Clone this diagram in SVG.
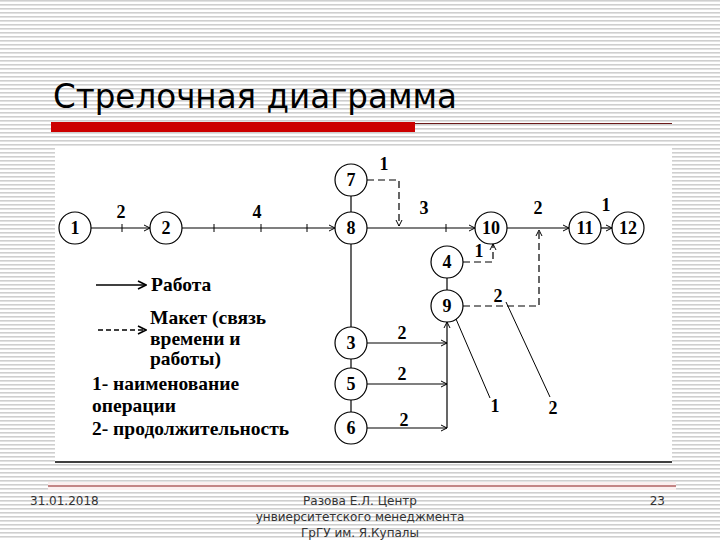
<svg xmlns="http://www.w3.org/2000/svg" width="720" height="540" viewBox="0 0 720 540">
<defs>
<pattern id="stripes" width="8" height="4" patternUnits="userSpaceOnUse">
<rect width="8" height="4" fill="#ffffff"/>
<rect y="0" width="8" height="1.6" fill="#cfcfcf"/>
</pattern>
<marker id="arr" markerWidth="8" markerHeight="8" refX="7" refY="4" orient="auto" markerUnits="userSpaceOnUse">
<path d="M1,1 L7,4 L1,7" fill="none" stroke="#000" stroke-width="1"/>
</marker>
<marker id="arrL" markerWidth="10" markerHeight="10" refX="9" refY="5" orient="auto" markerUnits="userSpaceOnUse">
<path d="M1,1 L9,5 L1,9" fill="none" stroke="#000" stroke-width="1.6"/>
</marker>
</defs>
<style>
.node circle{fill:#fff;stroke:#000;stroke-width:1.2}
.node text,.lbl{font-family:"Liberation Serif","Times New Roman",serif;font-weight:bold;font-size:18px;text-anchor:middle;fill:#000}
.ln{stroke:#000;stroke-width:1.2;fill:none}
.dash{stroke:#000;stroke-width:1.2;fill:none;stroke-dasharray:7 4}
.tick{stroke:#000;stroke-width:1}
.leg{font-family:"Liberation Serif","Times New Roman",serif;font-weight:bold;font-size:19.5px;fill:#000}
.foot{font-family:"DejaVu Sans","Liberation Sans",sans-serif;font-size:12px;fill:#333}
</style>
<rect width="720" height="540" fill="url(#stripes)"/>
<text x="53" y="108" font-family="DejaVu Sans,Liberation Sans,sans-serif" font-size="33" fill="#000" textLength="404" lengthAdjust="spacingAndGlyphs">Стрелочная диаграмма</text>
<rect x="51" y="122" width="364" height="10" fill="#cc0000"/>
<line x1="415" y1="123.5" x2="672" y2="123.5" stroke="#6b1a1a" stroke-width="1"/>
<rect x="55" y="147" width="617" height="315" fill="#ffffff"/>
<line x1="55" y1="462" x2="672" y2="462" stroke="#000" stroke-width="1.5"/>
<rect x="48" y="482" width="628" height="8" fill="#fbeeee"/>
<line x1="48" y1="486" x2="676" y2="486" stroke="#8b1a1a" stroke-width="1"/>
<g id="connectors">
<line class="ln" x1="91" y1="228" x2="150" y2="228" marker-end="url(#arr)"/>
<line class="tick" x1="122" y1="224" x2="122" y2="232"/>
<line class="ln" x1="182" y1="228" x2="335" y2="228" marker-end="url(#arr)"/>
<line class="tick" x1="214" y1="224" x2="214" y2="232"/>
<line class="tick" x1="261" y1="224" x2="261" y2="232"/>
<line class="tick" x1="307" y1="224" x2="307" y2="232"/>
<line class="ln" x1="351" y1="196" x2="351" y2="212"/>
<path class="dash" d="M367,180 H399 V226" marker-end="url(#arr)"/>
<line class="ln" x1="367" y1="228" x2="475" y2="228" marker-end="url(#arr)"/>
<line class="tick" x1="446" y1="224" x2="446" y2="232"/>
<line class="ln" x1="507" y1="228" x2="569" y2="228" marker-end="url(#arr)"/>
<line class="ln" x1="601" y1="228" x2="612" y2="228" marker-end="url(#arr)"/>
<path class="dash" d="M463,262 H493 V244" marker-end="url(#arr)"/>
<line class="ln" x1="447" y1="278" x2="447" y2="290"/>
<path class="dash" d="M463,306 H539 V230" marker-end="url(#arr)"/>
<line class="ln" x1="351" y1="244" x2="351" y2="327"/>
<line class="ln" x1="351" y1="359" x2="351" y2="368"/>
<line class="ln" x1="351" y1="400" x2="351" y2="412"/>
<line class="ln" x1="367" y1="343" x2="447" y2="343" marker-end="url(#arr)"/>
<line class="ln" x1="367" y1="384" x2="447" y2="384" marker-end="url(#arr)"/>
<line class="ln" x1="367" y1="428" x2="447" y2="428" marker-end="url(#arr)"/>
<line class="ln" x1="447" y1="428" x2="447" y2="322" marker-end="url(#arr)"/>
<line class="tick" x1="456" y1="319" x2="490" y2="398"/>
<line class="tick" x1="506" y1="302" x2="550" y2="397"/>
</g>
<g id="edge-labels">
<text class="lbl" x="121" y="218">2</text>
<text class="lbl" x="257" y="218">4</text>
<text class="lbl" x="384" y="170">1</text>
<text class="lbl" x="424" y="214">3</text>
<text class="lbl" x="538" y="214">2</text>
<text class="lbl" x="606" y="211">1</text>
<text class="lbl" x="479" y="257">1</text>
<text class="lbl" x="498" y="302">2</text>
<text class="lbl" x="402" y="339">2</text>
<text class="lbl" x="402" y="380">2</text>
<text class="lbl" x="404" y="426">2</text>
<text class="lbl" x="495" y="412">1</text>
<text class="lbl" x="553" y="414">2</text>
</g>
<g id="n1" class="node"><circle cx="75" cy="228" r="16"/><text x="75" y="234">1</text></g>
<g id="n2" class="node"><circle cx="166" cy="228" r="16"/><text x="166" y="234">2</text></g>
<g id="n7" class="node"><circle cx="351" cy="180" r="16"/><text x="351" y="186">7</text></g>
<g id="n8" class="node"><circle cx="351" cy="228" r="16"/><text x="351" y="234">8</text></g>
<g id="n10" class="node"><circle cx="491" cy="228" r="16"/><text x="491" y="234">10</text></g>
<g id="n11" class="node"><circle cx="585" cy="228" r="16"/><text x="585" y="234">11</text></g>
<g id="n12" class="node"><circle cx="628" cy="228" r="16"/><text x="628" y="234">12</text></g>
<g id="n4" class="node"><circle cx="447" cy="262" r="16"/><text x="447" y="268">4</text></g>
<g id="n9" class="node"><circle cx="447" cy="306" r="16"/><text x="447" y="312">9</text></g>
<g id="n3" class="node"><circle cx="351" cy="343" r="16"/><text x="351" y="349">3</text></g>
<g id="n5" class="node"><circle cx="351" cy="384" r="16"/><text x="351" y="390">5</text></g>
<g id="n6" class="node"><circle cx="351" cy="428" r="16"/><text x="351" y="434">6</text></g>
<g id="legend">
<line x1="96" y1="285" x2="146" y2="285" stroke="#000" stroke-width="1.6" marker-end="url(#arrL)"/>
<line x1="98" y1="330" x2="146" y2="330" stroke="#000" stroke-width="1.6" stroke-dasharray="5 3" marker-end="url(#arrL)"/>
<text class="leg" x="151" y="291">Работа</text>
<text class="leg" x="150" y="324">Макет (связь</text>
<text class="leg" x="150" y="345">времени и</text>
<text class="leg" x="150" y="365">работы)</text>
<text class="leg" x="92" y="390">1- наименование</text>
<text class="leg" x="92" y="412">операции</text>
<text class="leg" x="92" y="435">2- продолжительность</text>
</g>
<g id="footer">
<text class="foot" x="30" y="505">31.01.2018</text>
<text class="foot" x="360" y="505" text-anchor="middle">Разова Е.Л. Центр</text>
<text class="foot" x="360" y="521" text-anchor="middle">унвиерситетского менеджмента</text>
<text class="foot" x="360" y="537" text-anchor="middle">ГрГУ им. Я.Купалы</text>
<text class="foot" x="665" y="505" text-anchor="end">23</text>
</g>
</svg>
